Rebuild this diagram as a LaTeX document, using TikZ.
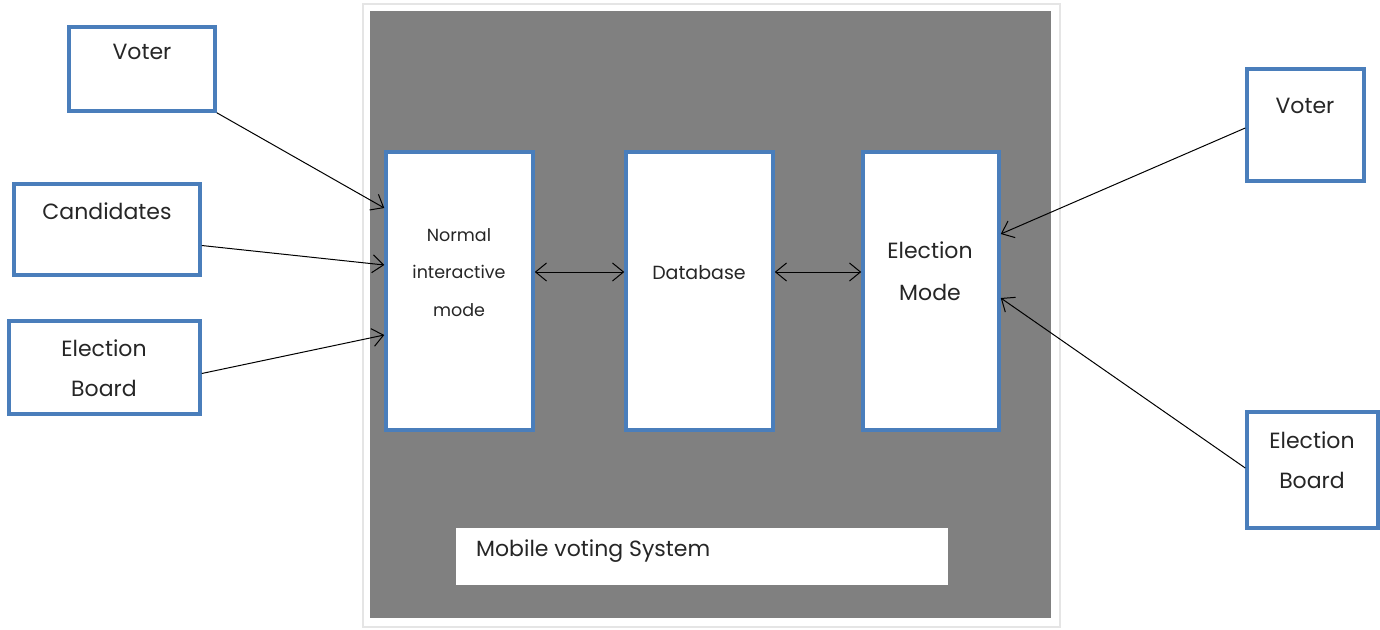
\documentclass[tikz,border=0pt]{standalone}
\usepackage{fontspec}
\setmainfont{Poppins}
\usetikzlibrary{arrows.meta}
\definecolor{boxblue}{HTML}{4A7EBB}
\definecolor{panelgray}{HTML}{808080}
\definecolor{txtcol}{HTML}{262626}
\begin{document}
\begin{tikzpicture}[x=1pt,y=-1pt,
  box/.style={draw=boxblue, line width=3.5pt, fill=white, rectangle, inner sep=0pt},
  txt/.style={text=txtcol, font=\fontsize{22}{26}\selectfont, align=center, inner sep=0pt},
  conn/.style={draw=black, line width=1pt},
  tip/.style={-{Straight Barb[length=11pt,width=18pt,line width=1pt]}},
  dtip/.style={{Straight Barb[length=11pt,width=18pt,line width=1pt]}-{Straight Barb[length=11pt,width=18pt,line width=1pt]}}]
\useasboundingbox (0,0) rectangle (1380,629);
\fill[white] (0,0) rectangle (1380,629);
% panel
\node[draw=black!10, line width=2pt, fill=white, minimum width=697pt, minimum height=623pt, inner sep=0pt] (frame) at (711,315) {};
\node[fill=panelgray, minimum width=681pt, minimum height=607pt, inner sep=0pt] (panel) at (710.5,314.5) {};
% inner boxes
\node[box, minimum width=147pt, minimum height=278pt] (nim) at (459.5,291) {};
\node[box, minimum width=147pt, minimum height=278pt] (db) at (699.5,291) {};
\node[box, minimum width=136pt, minimum height=278pt] (em) at (931,291) {};
\node[fill=white, minimum width=492pt, minimum height=57pt, inner sep=0pt] (mvs) at (702,556.5) {};
% outer boxes
\node[box, minimum width=146pt, minimum height=84pt] (lv) at (142,69) {};
\node[box, minimum width=186pt, minimum height=91pt] (lc) at (107,229.5) {};
\node[box, minimum width=191pt, minimum height=93pt] (lb) at (104.5,367.5) {};
\node[box, minimum width=117pt, minimum height=112pt] (rv) at (1305.5,125) {};
\node[box, minimum width=131pt, minimum height=116pt] (rb) at (1312.5,470) {};
% texts
\node[txt] (tlv) at (142,52) {Voter};
\node[txt] (tlc) at (107,211) {Candidates};
\node[txt] (tlb1) at (104,348) {Election};
\node[txt] (tlb2) at (104,388) {Board};
\node[txt, font=\fontsize{17.5}{21}\selectfont] (tn1) at (459,235) {Normal};
\node[txt, font=\fontsize{17.5}{21}\selectfont] (tn2) at (459,272) {interactive};
\node[txt, font=\fontsize{17.5}{21}\selectfont] (tn3) at (459,310) {mode};
\node[txt, font=\fontsize{19}{23}\selectfont] (tdb) at (699,273) {Database};
\node[txt, font=\fontsize{22}{26}\selectfont] (te1) at (930,250) {Election};
\node[txt, font=\fontsize{22}{26}\selectfont] (te2) at (930,292) {Mode};
\node[txt] (trv) at (1305,106) {Voter};
\node[txt] (trb1) at (1312,440) {Election};
\node[txt] (trb2) at (1312,480) {Board};
\node[txt, anchor=west] (tmvs) at (476,551) {Mobile voting System};
% connectors
\draw[conn, tip] (lv.south east) -- ([yshift=83pt]nim.west);
\draw[conn, tip] ([yshift=-16pt]lc.east) -- ([yshift=26pt]nim.west);
\draw[conn, tip] ([yshift=-6pt]lb.east) -- ([yshift=-44pt]nim.west);
\draw[conn, dtip] ([yshift=19pt]nim.east) -- ([yshift=19pt]db.west);
\draw[conn, dtip] ([yshift=19pt]db.east) -- ([yshift=19pt]em.west);
\draw[conn, tip] ([yshift=-3pt]rv.west) -- ([yshift=57pt]em.east);
\draw[conn, tip] ([yshift=2pt]rb.west) -- ([yshift=-7pt]em.east);
\end{tikzpicture}
\end{document}
